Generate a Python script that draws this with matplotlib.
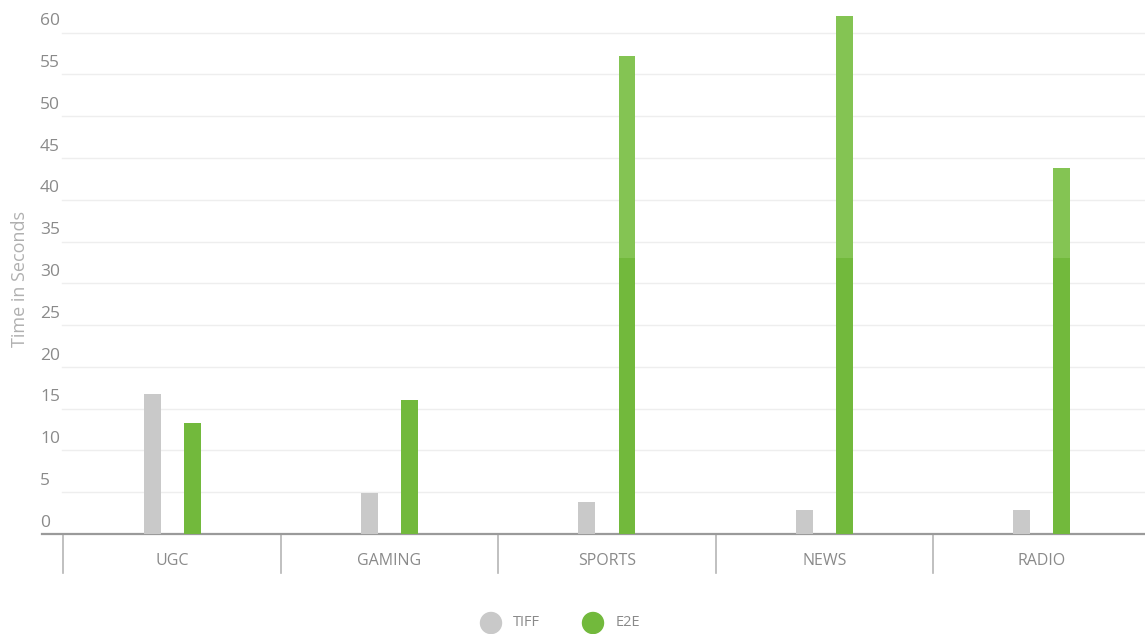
import matplotlib
matplotlib.use("Agg")
import matplotlib.pyplot as plt
from matplotlib.transforms import blended_transform_factory
import numpy as np

categories = ["UGC", "GAMING", "SPORTS", "NEWS", "RADIO"]
tiff = [16.8, 4.9, 3.8, 2.9, 2.9]
e2e = [13.3, 16.0, 57.2, 62.0, 43.8]
yticks = [0, 5, 10, 15, 20, 25, 30, 35, 40, 45, 50, 55, 60]
series_names = ["TIFF", "E2E"]

plt.rcParams['font.family'] = ['Open Sans', 'DejaVu Sans']

W, H = 1145, 634
fig = plt.figure(figsize=(W / 100, H / 100), dpi=100)
ax = fig.add_axes([42 / W, 100 / H, 1 - 42 / W, 1 - 100 / H])

GRAY = "#c9c9c9"
GREEN_DARK = "#72b93c"
GREEN_LIGHT = "#84c453"
TXT = "#8a8a8a"

x = np.arange(len(categories))
bw = 0.078
off = 0.092
split = 33.0

ax.bar(x - off, tiff, width=bw, color=GRAY, zorder=3)
e2e_arr = np.array(e2e)
lower = np.minimum(e2e_arr, split)
upper = np.clip(e2e_arr - split, 0, None)
ax.bar(x + off, lower, width=bw, color=GREEN_DARK, zorder=3)
ax.bar(x + off, upper, bottom=lower, width=bw, color=GREEN_LIGHT, zorder=3)

ax.set_xlim(-0.598, 4.474)
ax.set_ylim(0, 63.9)

for s in ["top", "right", "left"]:
    ax.spines[s].set_visible(False)
ax.spines["bottom"].set_color("#9a9a9a")
ax.spines["bottom"].set_linewidth(1.6)

# gridlines (start a bit right of axis start)
gtrans = blended_transform_factory(fig.transFigure, ax.transData)
for t in yticks[1:]:
    ax.plot([62 / W, 1.0], [t, t], transform=gtrans, color="#eeeeee",
            lw=1.0, zorder=1, clip_on=False)

ax.set_yticks([])
ax.set_xticks([])
for t in yticks:
    ax.text(40 / W, t + 0.4, str(t), transform=gtrans, ha="left", va="bottom",
            fontsize=12.5, color=TXT)

# category dividers below axis
dtrans = blended_transform_factory(ax.transData, fig.transFigure)
for d in np.arange(-0.5, len(categories) - 0.5, 1.0):
    ax.plot([d, d], [(H - 534) / H, (H - 573) / H], transform=dtrans,
            color="#b5b5b5", lw=1.2, clip_on=False)

for i, c in enumerate(categories):
    ax.text(i, (H - 561) / H, c, transform=dtrans, ha="center", va="center",
            fontsize=11.5, color=TXT)

fig.text(20 / W, 1 - 279 / H, "Time in Seconds", rotation=90, ha="center",
         va="center", fontsize=13, color="#b0b0b0")

# legend
leg_y = 1 - 623 / H
for cx, tx, col, name in [(491, 513, GRAY, series_names[0]),
                          (593, 616, GREEN_DARK, series_names[1])]:
    fig.add_artist(matplotlib.patches.Ellipse((cx / W, leg_y), 21 / W, 21 / H,
                                              transform=fig.transFigure,
                                              color=col))
    fig.text(tx / W, leg_y, name, ha="left", va="center", fontsize=10.5,
             color=TXT)

fig.savefig("out.png", dpi=100)
